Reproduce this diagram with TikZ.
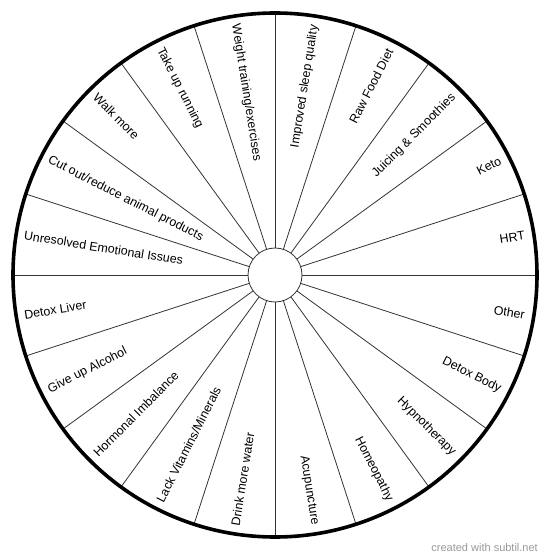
\documentclass[tikz,border=0pt]{standalone}
\usepackage{fontspec}
\setmainfont{Liberation Sans}
\setsansfont{Liberation Sans}

\begin{document}
\begin{tikzpicture}[x=1pt, y=1pt, font=\sffamily\fontsize{12.4}{14}\selectfont,
rim/.style={draw=black, line width=3.6pt},
spoke/.style={draw=black!80, line width=0.8pt},
hubdisc/.style={draw=black!80, line width=0.8pt, fill=white, circle, minimum size=54pt, inner sep=0pt},
rlabel/.style={anchor=east, inner sep=0pt},
llabel/.style={anchor=west, inner sep=0pt},
credit/.style={text=black!40, font=\sffamily\fontsize{11}{13}\selectfont, anchor=east, inner sep=0pt}]
\useasboundingbox (-275,-284) rectangle (275,275);
\node[hubdisc] (hub) at (0,0) {};
\foreach \a in {0,18,...,342}
  \draw[spoke] (hub.\a) -- (\a:262);
\draw[rim] (0,0) circle (262);
% labels on the right half
\foreach \a/\txt in {81/Improved sleep quality, 63/Raw Food Diet, 45/Juicing \& Smoothies,
    27/Keto, 9/HRT, -9/Other, -27/Detox Body, -45/Hypnotherapy, -63/Homeopathy, -81/Acupuncture}
  \node[rlabel, rotate=\a] (lbl\a) at (\a:253) {\txt};
% labels on the left half
\foreach \a/\txt in {99/{Weight training/exercises}, 117/Take up running, 135/Walk more,
    153/{Cut out/reduce animal products}, 171/Unresolved Emotional Issues, 189/Detox Liver,
    207/Give up Alcohol, 225/Hormonal Imbalance, 243/{Lack Vitamins/Minerals}, 261/Drink more water}
  \node[llabel, rotate=\a-180] (lbl\a) at (\a:254) {\txt};
\node[credit] (credit) at (263,-273) {created with subtil.net};
\end{tikzpicture}
\end{document}
